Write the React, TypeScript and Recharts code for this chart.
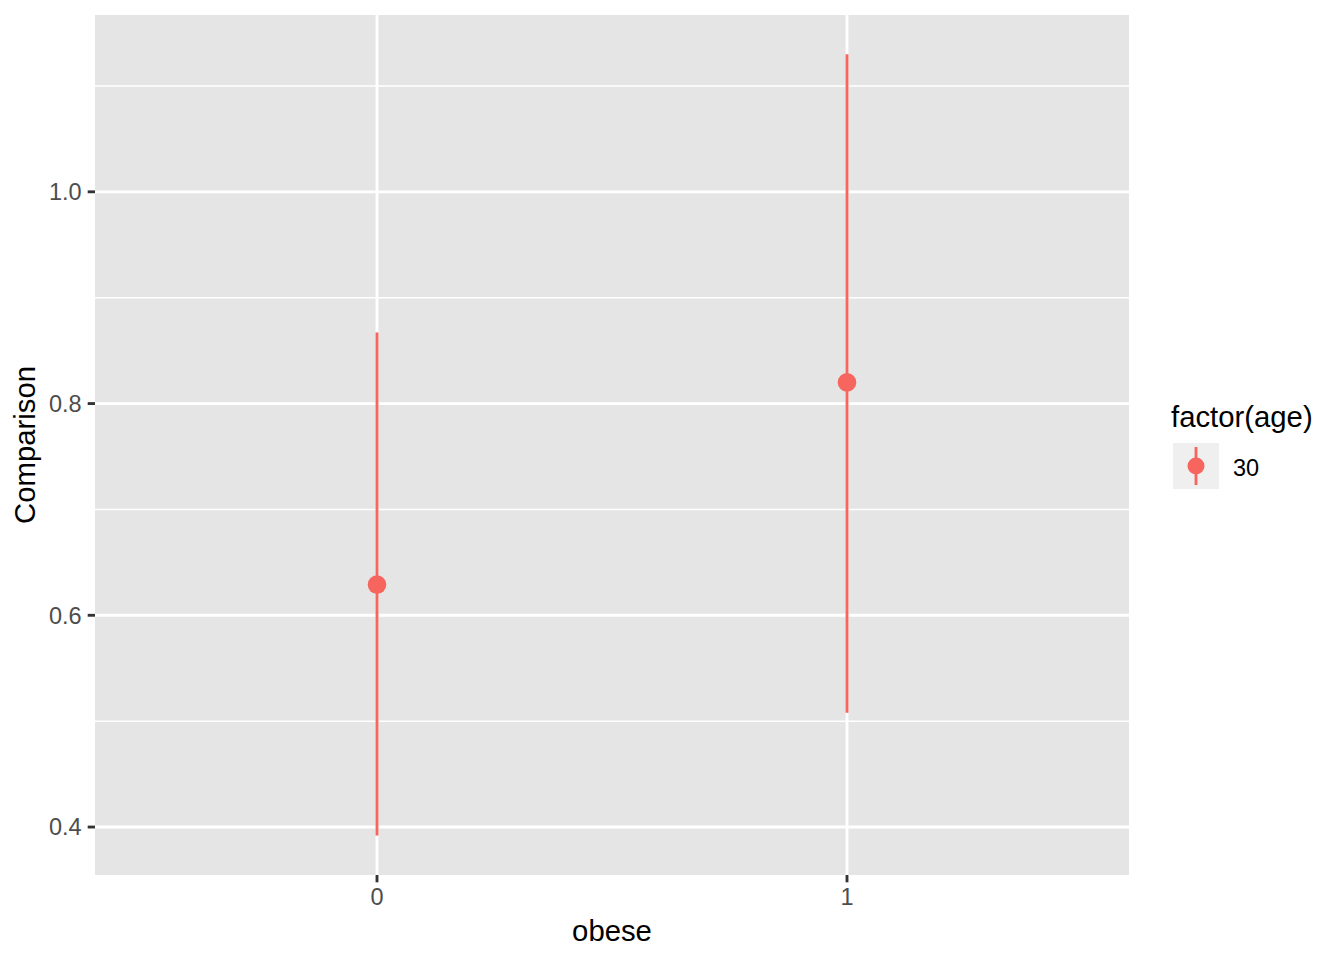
import React from 'react';
import {
  ComposedChart,
  Scatter,
  ErrorBar,
  XAxis,
  YAxis,
  ReferenceLine,
  ReferenceArea,
} from 'recharts';

const obese = [0, 1];
const estimate = [0.629, 0.82];
const lower = [0.392, 0.508];
const upper = [0.867, 1.13];
const yTicks = [0.4, 0.6, 0.8, 1.0];
const yMinor = [0.5, 0.7, 0.9, 1.1];
const xTicks = [0, 1];
const legendLabels = ['30'];

const data = obese.map((o, i) => ({
  x: o,
  y: estimate[i],
  err: [estimate[i] - lower[i], upper[i] - estimate[i]],
}));

const RED = '#F6665E';
const FONT = '"Liberation Sans", Arial, Helvetica, sans-serif';
const X_DOMAIN: [number, number] = [-0.6, 1.6];
const Y_DOMAIN: [number, number] = [0.3547, 1.167];
const TICK_FS = 23.5;
const TITLE_FS = 29.3;

const Dot = (props: any) => (
  <circle cx={props.cx} cy={props.cy} r={9.3} fill={RED} />
);

const YTick = (props: any) => (
  <text
    x={props.x}
    y={props.y}
    dy="0.36em"
    textAnchor="end"
    fill="#4D4D4D"
    fontSize={TICK_FS}
    fontFamily={FONT}
  >
    {Number(props.payload.value).toFixed(1)}
  </text>
);

const XTick = (props: any) => (
  <text
    x={props.x}
    y={props.y}
    dy="0.72em"
    textAnchor="middle"
    fill="#4D4D4D"
    fontSize={TICK_FS}
    fontFamily={FONT}
  >
    {props.payload.value}
  </text>
);

export default function App() {
  return (
    <div
      style={{
        position: 'absolute',
        left: 0,
        top: 0,
        width: 1344,
        height: 960,
        background: '#fff',
        fontFamily: FONT,
      }}
    >
      <ComposedChart
        width={1344}
        height={960}
        data={data}
        margin={{ top: 15, right: 215, bottom: 45, left: 35 }}
      >
        <XAxis
          type="number"
          dataKey="x"
          domain={X_DOMAIN}
          ticks={xTicks}
          allowDataOverflow
          axisLine={false}
          tickLine={{ stroke: '#333333', strokeWidth: 2.85 }}
          tickSize={7.3}
          tickMargin={6}
          height={40}
          tick={<XTick />}
        />
        <YAxis
          type="number"
          domain={Y_DOMAIN}
          ticks={yTicks}
          allowDataOverflow
          axisLine={false}
          tickLine={{ stroke: '#333333', strokeWidth: 2.85 }}
          tickSize={7.3}
          tickMargin={6}
          width={60}
          tick={<YTick />}
        />
        <ReferenceArea
          x1={X_DOMAIN[0]}
          x2={X_DOMAIN[1]}
          y1={Y_DOMAIN[0]}
          y2={Y_DOMAIN[1]}
          fill="#E5E5E5"
          fillOpacity={1}
          stroke="none"
          ifOverflow="extendDomain"
        />
        {yMinor.map((v) => (
          <ReferenceLine key={'mn' + v} y={v} stroke="#ffffff" strokeWidth={1.42} />
        ))}
        {yTicks.map((v) => (
          <ReferenceLine key={'mj' + v} y={v} stroke="#ffffff" strokeWidth={2.85} />
        ))}
        {xTicks.map((v) => (
          <ReferenceLine key={'xv' + v} x={v} stroke="#ffffff" strokeWidth={2.85} />
        ))}
        <Scatter dataKey="y" isAnimationActive={false} shape={Dot}>
          <ErrorBar
            dataKey="err"
            direction="y"
            width={0}
            stroke={RED}
            strokeWidth={2.85}
            isAnimationActive={false}
          />
        </Scatter>
      </ComposedChart>

      <div
        style={{
          position: 'absolute',
          left: 25,
          top: 445,
          transform: 'translate(-50%, -50%) rotate(-90deg)',
          fontSize: TITLE_FS,
          lineHeight: '30px',
          whiteSpace: 'nowrap',
          color: '#000',
        }}
      >
        Comparison
      </div>
      <div
        style={{
          position: 'absolute',
          left: 612,
          top: 931,
          transform: 'translate(-50%, -50%)',
          fontSize: TITLE_FS,
          lineHeight: '30px',
          whiteSpace: 'nowrap',
          color: '#000',
        }}
      >
        obese
      </div>

      <div
        style={{
          position: 'absolute',
          left: 1171,
          top: 402,
          fontSize: TITLE_FS,
          lineHeight: '30px',
          whiteSpace: 'nowrap',
          color: '#000',
        }}
      >
        factor(age)
      </div>
      {legendLabels.map((lab, i) => (
        <React.Fragment key={lab}>
          <div
            style={{
              position: 'absolute',
              left: 1173,
              top: 443 + i * 46,
              width: 46,
              height: 46,
              background: '#EFEFEF',
            }}
          >
            <svg width={46} height={46}>
              <line x1={23} x2={23} y1={4} y2={42} stroke={RED} strokeWidth={2.85} />
              <circle cx={23} cy={23} r={8.5} fill={RED} />
            </svg>
          </div>
          <div
            style={{
              position: 'absolute',
              left: 1233,
              top: 454 + i * 46,
              fontSize: TICK_FS,
              lineHeight: '28px',
              whiteSpace: 'nowrap',
              color: '#000',
            }}
          >
            {lab}
          </div>
        </React.Fragment>
      ))}
    </div>
  );
}
